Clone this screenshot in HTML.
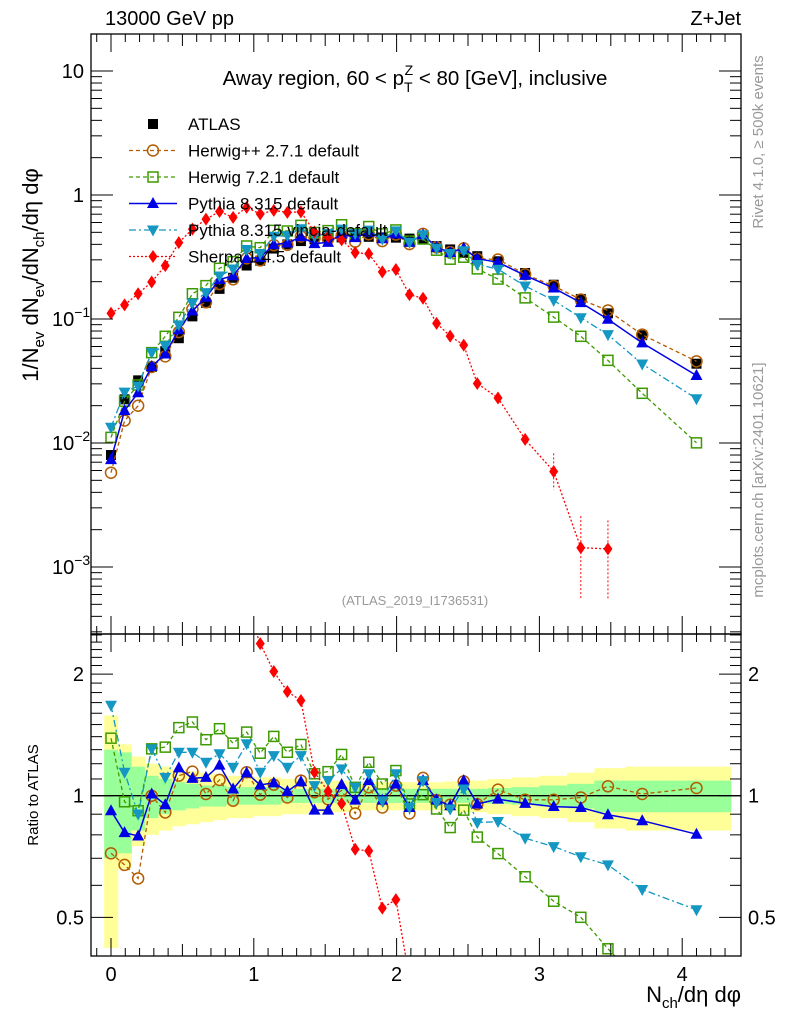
<!DOCTYPE html>
<html><head><meta charset="utf-8"><style>
html,body{margin:0;padding:0;background:#fff;overflow:hidden;}
svg{display:block;font-family:"Liberation Sans",sans-serif;}
</style></head><body>
<svg id="c" width="786" height="1024" viewBox="0 0 786 1024" xmlns="http://www.w3.org/2000/svg">
<defs>
<clipPath id="cm"><rect x="91" y="34" width="650" height="600"/></clipPath>
<clipPath id="cr"><rect x="91" y="634" width="650" height="322"/></clipPath>
</defs>
<text x="105" y="25" font-size="20">13000 GeV pp</text>
<text x="741" y="25" font-size="20" text-anchor="end">Z+Jet</text>
<text x="415" y="85" font-size="20.5" text-anchor="middle">Away region, 60 &lt; p<tspan font-size="14" dy="7">T</tspan><tspan font-size="14" dx="-8" dy="-17">Z</tspan><tspan dy="10"> &lt; 80 [GeV], inclusive</tspan></text>
<text x="415" y="605" font-size="13" fill="#999" text-anchor="middle">(ATLAS_2019_I1736531)</text>
<text transform="translate(763,142) rotate(-90)" font-size="15" fill="#999" text-anchor="middle">Rivet 4.1.0, ≥ 500k events</text>
<text transform="translate(763,480) rotate(-90)" font-size="15" fill="#999" text-anchor="middle">mcplots.cern.ch [arXiv:2401.10621]</text>
<text transform="translate(38,275) rotate(-90)" font-size="22" text-anchor="middle">1/N<tspan font-size="15" dy="6">ev</tspan><tspan dy="-6"> dN</tspan><tspan font-size="15" dy="6">ev</tspan><tspan dy="-6">/dN</tspan><tspan font-size="15" dy="6">ch</tspan><tspan dy="-6">/dη dφ</tspan></text>
<text transform="translate(38,795) rotate(-90)" font-size="15" text-anchor="middle">Ratio to ATLAS</text>
<text x="741" y="1002" font-size="22" text-anchor="end">N<tspan font-size="15" dy="6">ch</tspan><tspan dy="-6">/dη dφ</tspan></text>
<g id="g"></g>
</svg>
<script>
const xs=[0,0.095,0.19,0.285,0.38,0.475,0.57,0.665,0.76,0.855,0.95,1.045,1.14,1.235,1.33,1.425,1.52,1.615,1.71,1.805,1.9,1.995,2.09,2.185,2.28,2.375,2.47,2.565,2.71,2.9,3.1,3.29,3.48,3.72,4.1];
const atlas=[0.0080,0.0225,0.032,0.041,0.055,0.070,0.105,0.135,0.175,0.215,0.27,0.295,0.37,0.40,0.425,0.44,0.45,0.455,0.465,0.46,0.455,0.453,0.445,0.439,0.387,0.364,0.342,0.321,0.292,0.235,0.189,0.145,0.111,0.074,0.0436];
const totUnc=[0.58,0.34,0.25,0.2,0.18,0.16,0.15,0.14,0.13,0.12,0.12,0.11,0.11,0.1,0.1,0.09,0.09,0.09,0.08,0.08,0.08,0.08,0.08,0.08,0.08,0.085,0.09,0.09,0.1,0.11,0.12,0.14,0.17,0.18,0.18];
const statUnc=[0.3,0.28,0.18,0.12,0.1,0.08,0.07,0.06,0.06,0.05,0.05,0.05,0.05,0.04,0.04,0.04,0.04,0.04,0.04,0.04,0.04,0.04,0.04,0.04,0.04,0.04,0.04,0.04,0.045,0.05,0.06,0.07,0.09,0.09,0.09];
const rHerwigpp=[0.72,0.674,0.624,1.0,0.909,1.121,1.147,1.01,1.094,0.972,1.143,1.006,1.065,0.99,1.09,1.02,0.98,1.03,0.904,1.049,0.935,1.059,0.904,1.107,0.976,0.95,1.085,0.953,1.035,0.977,0.977,0.99,1.055,1.01,1.045];
const rHerwig7=[1.388,0.966,0.918,1.306,1.319,1.474,1.522,1.376,1.465,1.349,1.437,1.274,1.402,1.281,1.339,1.133,1.147,1.265,1.049,1.21,1.069,1.154,0.954,1.006,0.927,0.834,0.921,0.79,0.719,0.63,0.548,0.5,0.418,0.34,0.23];
const rPythia=[0.918,0.81,0.795,1.01,0.95,1.172,1.104,1.11,1.19,1.039,1.139,1.063,1.076,1.025,1.083,0.921,0.921,1.065,0.975,1.09,0.975,1.069,0.935,1.09,0.976,0.944,1.09,0.954,0.981,0.957,0.94,0.935,0.897,0.867,0.803];
const rVincia=[1.674,1.143,0.9,1.306,1.11,1.281,1.281,1.21,1.27,1.176,1.345,1.143,1.257,1.176,1.257,1.059,1.09,1.165,1.049,1.133,0.971,1.133,0.935,1.09,0.962,0.927,1.039,0.858,0.863,0.785,0.748,0.706,0.674,0.586,0.522];
const rSherpa=[13.9,5.78,5.0,4.85,4.9,5.9,5.05,4.73,4.21,3.07,2.94,2.38,2.03,1.81,1.72,1.143,1.025,0.956,0.737,0.73,0.527,0.553,0.353,0.335,0.2385,0.2,0.18,0.094,0.079,0.0455,0.0312,0.00986,0.0126];
const xTicks=[0,1,2,3,4];
const mainYTicks=[10,1,0.1,0.01,0.001];
const ratioYTicks=[2,1,0.5];

const NS="http://www.w3.org/2000/svg";
const G=document.getElementById('g');
const L=91,R=741,MT=34,MB=634,RT=634,RB=956;
const X=v=>111+142.8*v;
const Ym=v=>195-124*Math.log10(v);
const Yr=v=>795.7-404*Math.log10(v);
function mk(t,a,p){const e=document.createElementNS(NS,t);for(const k in a)e.setAttribute(k,a[k]);(p||G).appendChild(e);return e;}

const edges=[];
for(let i=0;i<=xs.length;i++){
  if(i===0)edges.push(xs[0]-(xs[1]-xs[0])/2);
  else if(i===xs.length)edges.push(4.34);
  else edges.push((xs[i-1]+xs[i])/2);
}
const bandG=mk('g',{'clip-path':'url(#cr)'});


xs.forEach((x,i)=>{
  const a=X(edges[i]),b=X(edges[i+1]);
  const y1=mk('rect',{x:a,y:Yr(1+totUnc[i]),width:b-a+0.5,height:Yr(Math.max(1-totUnc[i],0.01))-Yr(1+totUnc[i]),fill:'#ffff99'},bandG);
  
  
  const g1=mk('rect',{x:a,y:Yr(1+statUnc[i]),width:b-a+0.5,height:Yr(1-statUnc[i])-Yr(1+statUnc[i]),fill:'#99ff99'},bandG);
  
  
});
const one=mk('line',{x1:L,x2:R,y1:Yr(1),y2:Yr(1),stroke:'#000','stroke-width':1.3});



function marker(p,type,x,y,col){
  let e;
  if(type==='sq')e=mk('rect',{x:x-5,y:y-5,width:10,height:10,fill:col},p);
  else if(type==='osq')e=mk('rect',{x:x-5,y:y-5,width:10,height:10,fill:'#fff','fill-opacity':0,stroke:col,'stroke-width':1.5},p);
  else if(type==='oc')e=mk('circle',{cx:x,cy:y,r:5.5,fill:'none',stroke:col,'stroke-width':1.5},p);
  else if(type==='tu')e=mk('path',{d:`M${x},${y-6.5}L${x+6},${y+4.5}L${x-6},${y+4.5}Z`,fill:col},p);
  else if(type==='td')e=mk('path',{d:`M${x},${y+6.5}L${x+6},${y-4.5}L${x-6},${y-4.5}Z`,fill:col},p);
  else if(type==='di')e=mk('path',{d:`M${x},${y-6.5}L${x+4.5},${y}L${x},${y+6.5}L${x-4.5},${y}Z`,fill:col},p);
  return e;
}
const series=[
 {name:'herwigpp',r:rHerwigpp,col:'#b35c00',dash:'4,3',m:'oc',w:1.3},
 {name:'herwig7',r:rHerwig7,col:'#3d9a00',dash:'4,3',m:'osq',w:1.3},
 {name:'pythia',r:rPythia,col:'#0000e6',dash:'',m:'tu',w:1.5},
 {name:'vincia',r:rVincia,col:'#1497c2',dash:'7,3,2,3',m:'td',w:1.3},
 {name:'sherpa',r:rSherpa,col:'#ff0000',dash:'2,2',m:'di',w:1.3}
];
const mainG=mk('g',{'clip-path':'url(#cm)'});
const ratG=mk('g',{'clip-path':'url(#cr)'});
const ag=mk('g',{},mainG);


atlas.forEach((v,i)=>{
  const p=marker(ag,'sq',X(xs[i]),Ym(v),'#000');
  
  
});
series.forEach(s=>{
  const mg=mk('g',{},mainG);
  
  
  const rg=mk('g',{},ratG);
  
  
  const pm=s.r.map((r,i)=>X(xs[i]).toFixed(1)+','+Ym(r*atlas[i]).toFixed(1)).join(' ');
  const pr=s.r.map((r,i)=>X(xs[i]).toFixed(1)+','+Yr(r).toFixed(1)).join(' ');
  const l1=mk('polyline',{points:pm,fill:'none',stroke:s.col,'stroke-width':s.w,'stroke-dasharray':s.dash},mg);
  
  
  const l2=mk('polyline',{points:pr,fill:'none',stroke:s.col,'stroke-width':s.w,'stroke-dasharray':s.dash},rg);
  
  
  s.r.forEach((r,i)=>{
    const a=marker(mg,s.m,X(xs[i]),Ym(r*atlas[i]),s.col);
    
    
    const b=marker(rg,s.m,X(xs[i]),Yr(r),s.col);
    
    
  });
});
[30,31,32].forEach((i,k)=>{
  const x=X(xs[i]),v=rSherpa[i]*atlas[i];
  const f=[1.4,1.8,1.7][k],g=[1.4,2.6,2.6][k];
  const e=mk('line',{x1:x,x2:x,y1:Ym(v*f),y2:Ym(v/g),stroke:'#ff0000','stroke-width':1,'stroke-dasharray':'2,2'},mainG);
  
  
});
const f1=mk('rect',{x:L,y:MT,width:R-L,height:MB-MT,fill:'none',stroke:'#000','stroke-width':1.3});


const f2=mk('rect',{x:L,y:RT,width:R-L,height:RB-RT,fill:'none',stroke:'#000','stroke-width':1.3});


const tg=mk('g',{stroke:'#000','stroke-width':1});


for(let k=-1;k<=43;k++){
  const v=k/10,x=X(v);if(x<L||x>R)continue;
  const len=(k%10===0)?18:(k%5===0?12:8);
  [[MT,1],[MB,-1],[RT,1],[RB,-1]].forEach(([y,d])=>mk('line',{x1:x,x2:x,y1:y,y2:y+d*len},tg));
}
xTicks.forEach(v=>{
  const t=mk('text',{x:X(v),y:981,'font-size':20,'text-anchor':'middle'});
  t.textContent=v;
  
  
});
for(let e=-4;e<=1;e++){
  for(let m=1;m<10;m++){
    const v=m*Math.pow(10,e),y=Ym(v);if(y<MT||y>MB)continue;
    const len=m===1?22:11;
    mk('line',{x1:L,x2:L+len,y1:y,y2:y},tg);mk('line',{x1:R,x2:R-len,y1:y,y2:y},tg);
  }
}
mainYTicks.forEach(v=>{
  const t=mk('text',{x:84,y:Ym(v)+7,'font-size':20,'text-anchor':'end'});
  const ex=Math.round(Math.log10(v));
  if(ex>=0)t.textContent=v;
  else{t.textContent='10';const s=document.createElementNS(NS,'tspan');s.setAttribute('font-size','14');s.setAttribute('dy','-9');s.textContent=String(ex).replace('-','−');t.appendChild(s);t.setAttribute('text-anchor','start');t.setAttribute('x',52);}
  
  
});
for(let v=0.4;v<=2.5001;v+=0.1){
  const y=Yr(v);if(y<RT||y>RB)continue;
  const major=Math.abs(v-1)<1e-6||Math.abs(v-2)<1e-6||Math.abs(v-0.5)<1e-6;
  const len=major?22:11;
  mk('line',{x1:L,x2:L+len,y1:y,y2:y},tg);mk('line',{x1:R,x2:R-len,y1:y,y2:y},tg);
}
ratioYTicks.forEach(v=>{
  [[84,'end'],[748,'start']].forEach(([x,a])=>{
    const t=mk('text',{x:x,y:Yr(v)+7,'font-size':20,'text-anchor':a});
    t.textContent=v;
    
    
  });
});
const leg=mk('g',{});


const legItems=[['ATLAS','sq','#000','',1],...series.map(s=>[null,s.m,s.col,s.dash,s.w])];
const legNames=['ATLAS','Herwig++ 2.7.1 default','Herwig 7.2.1 default','Pythia 8.315 default','Pythia 8.315 vincia-default','Sherpa 1.4.5 default'];
legItems.forEach((it,i)=>{
  const y=124+i*26.5;
  const eg=mk('g',{},leg);
  
  
  if(i>0)mk('line',{x1:129,x2:177,y1:y,y2:y,stroke:it[2],'stroke-width':it[4],'stroke-dasharray':it[3]},eg);
  marker(eg,it[1],153,y,it[2]);
  const t=mk('text',{x:188,y:y+6,'font-size':17},eg);
  t.textContent=legNames[i];
});
</script>
</body></html>
